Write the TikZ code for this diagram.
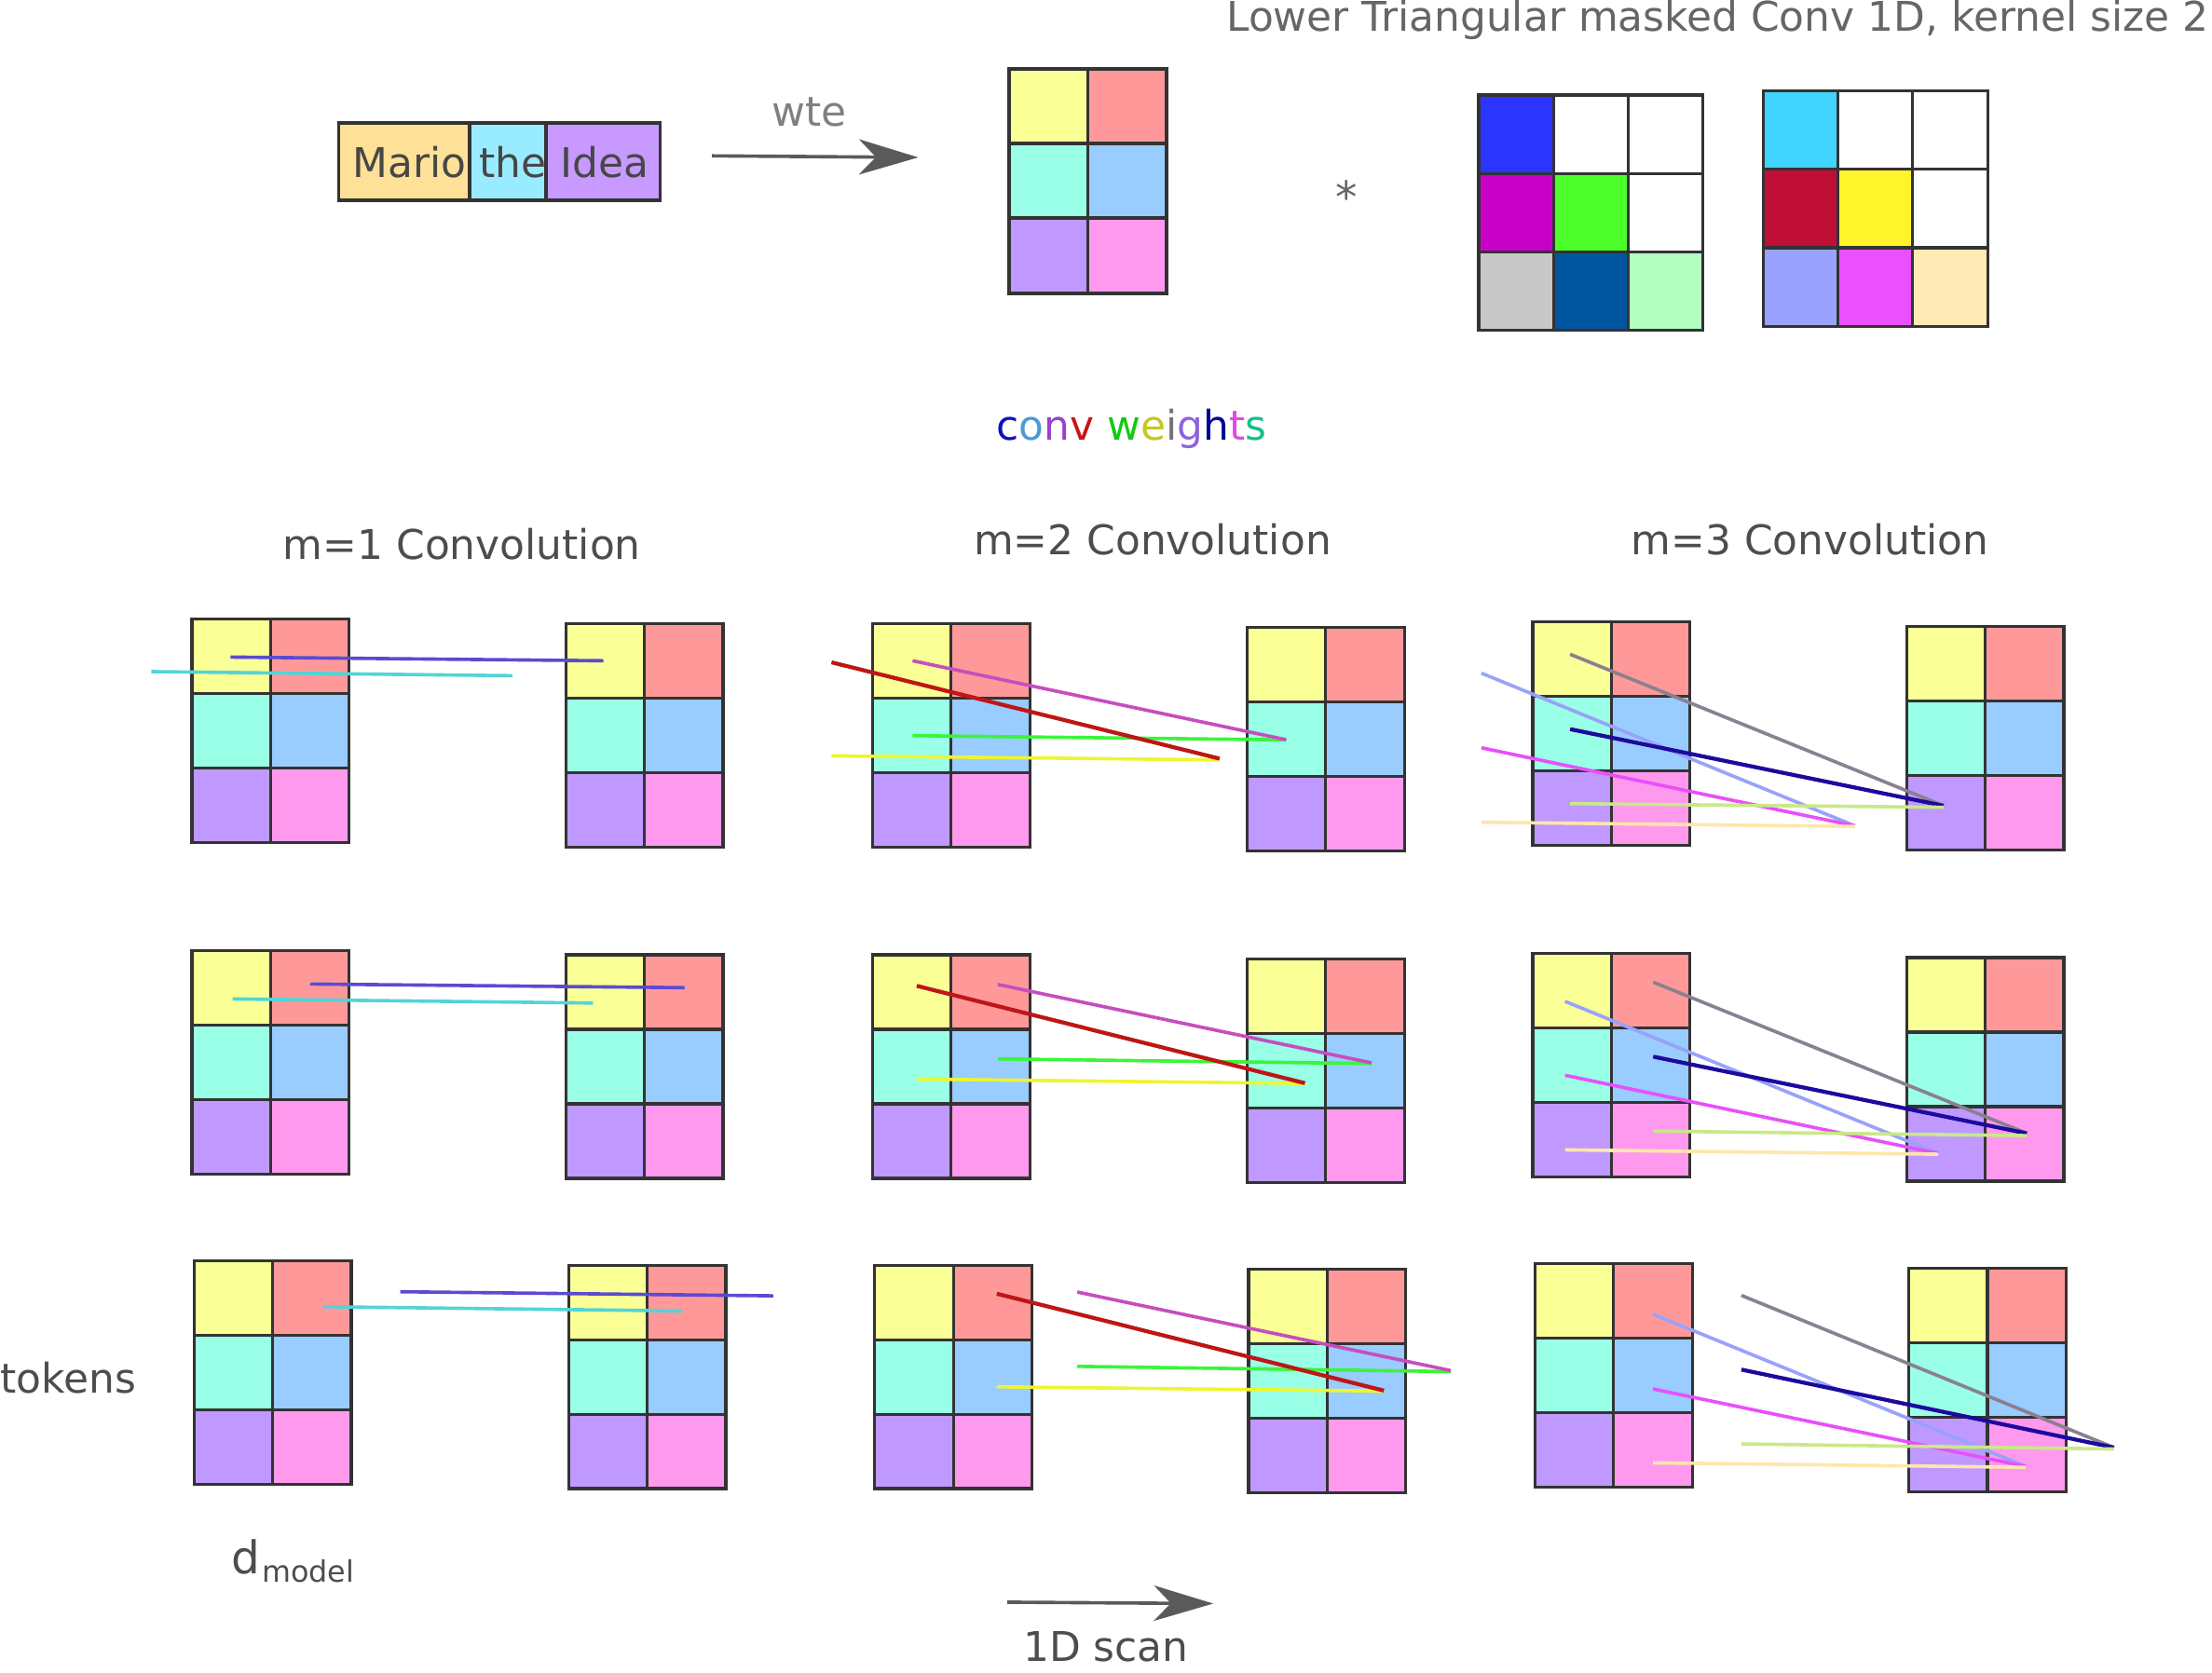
\documentclass[tikz,border=0pt]{standalone}
\usepackage{fontspec}
\setmainfont{DejaVu Sans}
\usetikzlibrary{arrows.meta}
% embedding colours
\definecolor{eyel}{HTML}{FAFF96}
\definecolor{esal}{HTML}{FF9999}
\definecolor{eaq}{HTML}{99FFE6}
\definecolor{eblu}{HTML}{99CCFF}
\definecolor{epur}{HTML}{BF99FF}
\definecolor{epin}{HTML}{FF99EE}
% token colours
\definecolor{tmario}{HTML}{FFE097}
\definecolor{tthe}{HTML}{99EBFF}
\definecolor{tidea}{HTML}{C899FF}
% weight colours
\definecolor{wa}{HTML}{2B35FF}
\definecolor{wb}{HTML}{C800C8}
\definecolor{wc}{HTML}{4CFF2A}
\definecolor{wd}{HTML}{C8C8C8}
\definecolor{we}{HTML}{0055A0}
\definecolor{wf}{HTML}{B3FFC0}
\definecolor{wg}{HTML}{40D4FF}
\definecolor{wh}{HTML}{C00F37}
\definecolor{wi}{HTML}{FFF52A}
\definecolor{wj}{HTML}{99A3FF}
\definecolor{wk}{HTML}{EA50FF}
\definecolor{wl}{HTML}{FFEAB5}
% line colours
\definecolor{lpur}{HTML}{5A4BD1}
\definecolor{lcya}{HTML}{52D4D8}
\definecolor{lred}{HTML}{BE1616}
\definecolor{lorc}{HTML}{C54EBF}
\definecolor{lgre}{HTML}{3AF53A}
\definecolor{lyel}{HTML}{EEF530}
\definecolor{lgra}{HTML}{8A8090}
\definecolor{lper}{HTML}{98A2FA}
\definecolor{lnav}{HTML}{1C0A9E}
\definecolor{lmag}{HTML}{E850FA}
\definecolor{llgr}{HTML}{CAE887}
\definecolor{lpea}{HTML}{FFE6AA}
% text colours
\definecolor{txt}{HTML}{4D4D4D}
\definecolor{txtb}{HTML}{666666}
\definecolor{txtc}{HTML}{808080}
\definecolor{arr}{HTML}{5A5A5A}
\definecolor{grid}{HTML}{333333}
% conv weights letters
\definecolor{ca}{HTML}{1010C0}
\definecolor{cb}{HTML}{4A9BD6}
\definecolor{cc}{HTML}{9B40CF}
\definecolor{cd}{HTML}{C81414}
\definecolor{ce}{HTML}{14C814}
\definecolor{cf}{HTML}{C3C81E}
\definecolor{cg}{HTML}{737373}
\definecolor{ch}{HTML}{8C64DC}
\definecolor{ci}{HTML}{000096}
\definecolor{cj}{HTML}{E04BE0}
\definecolor{ck}{HTML}{14BF8C}

\newcommand\embmat[3]{% name, x, y (top-left)
  \coordinate (#1) at (#2,#3);
  \begin{scope}[shift={(#2,#3)}]
    \foreach \r/\cA/\cB in {0/eyel/esal,1/eaq/eblu,2/epur/epin}{
      \fill[\cA] (0,\r*52.83) rectangle (55.75,\r*52.83+52.83);
      \fill[\cB] (55.75,\r*52.83) rectangle (111.5,\r*52.83+52.83);
    }
    \draw[gridline] (0,0) rectangle (111.5,158.5);
    \draw[gridline] (55.75,0) -- (55.75,158.5)
      (0,52.83) -- (111.5,52.83) (0,105.67) -- (111.5,105.67);
  \end{scope}}

\newcommand\wmat[9]{% name, x, y, c11, c21, c22, c31, c32, c33
  \coordinate (#1) at (#2,#3);
  \begin{scope}[shift={(#2,#3)}]
    \fill[#4] (0,0) rectangle (53,55.6);
    \fill[#5] (0,55.6) rectangle (53,111.2);
    \fill[#6] (53,55.6) rectangle (106,111.2);
    \fill[#7] (0,111.2) rectangle (53,167);
    \fill[#8] (53,111.2) rectangle (106,167);
    \fill[#9] (106,111.2) rectangle (159,167);
    \draw[gridline] (0,0) rectangle (159,167);
    \draw[gridline] (53,0) -- (53,167) (106,0) -- (106,167)
      (0,55.6) -- (159,55.6) (0,111.2) -- (159,111.2);
  \end{scope}}

\begin{document}
\begin{tikzpicture}[x=1pt,y=-1pt,
  gridline/.style={draw=grid,line width=2.1pt},
  lbl/.style={font=\fontsize{29}{34}\selectfont,text=txt,inner sep=0pt},
  ln/.style={draw=#1,line width=2.4pt},
  bigarrow/.style={draw=arr,line width=2.4pt,-{Stealth[length=42pt,width=25pt,inset=12pt]}}]
\useasboundingbox (0,0) rectangle (1568,1186);
\clip (0,0) rectangle (1568,1186);

% ---------- top part ----------
\fill[tmario] (240,87) rectangle (333,142);
\fill[tthe] (333,87) rectangle (387,142);
\fill[tidea] (387,87) rectangle (468,142);
\draw[gridline,line width=2.4pt] (240,87) rectangle (468,142) (333,87) -- (333,142) (387,87) -- (387,142);
\node[lbl,anchor=base west,text=grid!90] (mario) at (249.9,125.5) {Mario};
\node[lbl,anchor=base west,text=grid!90] (the) at (339.6,125.5) {the};
\node[lbl,anchor=base west,text=grid!90] (idea) at (397.3,125.5) {Idea};

\node[lbl,anchor=base west,text=txtc] (wte) at (546.8,89.2) {wte};
\coordinate (wA) at (504.7,110.5);
\coordinate (wB) at (650.9,111.6);
\draw[bigarrow] (wA) -- (wB);

% top embedding matrix
\begin{scope}[shift={(715.3,48.9)}]
  \fill[eyel] (0,0) rectangle (56,52.8);
  \fill[esal] (56,0) rectangle (111.6,52.8);
  \fill[eaq] (0,52.8) rectangle (56,105.7);
  \fill[eblu] (56,52.8) rectangle (111.6,105.7);
  \fill[epur] (0,105.7) rectangle (56,159.1);
  \fill[epin] (56,105.7) rectangle (111.6,159.1);
  \draw[gridline] (0,0) rectangle (111.6,159.1);
  \draw[gridline] (56,0) -- (56,159.1) (0,52.8) -- (111.6,52.8) (0,105.7) -- (111.6,105.7);
\end{scope}
\coordinate (topemb) at (715.3,48.9);

\node[lbl,anchor=base west,text=txtb] (title) at (869.2,22) {Lower Triangular masked Conv 1D, kernel size 2};
\node[lbl,anchor=base,text=txtb,font=\fontsize{31}{36}\selectfont] (star) at (954.4,151) {*};

\wmat{wm1}{1048.2}{67.4}{wa}{wb}{wc}{wd}{we}{wf}
\wmat{wm2}{1249.9}{64.5}{wg}{wh}{wi}{wj}{wk}{wl}

\node[lbl,anchor=base west] (cw) at (706.3,312.2) {\textcolor{ca}{c}\textcolor{cb}{o}\textcolor{cc}{n}\textcolor{cd}{v} \textcolor{ce}{w}\textcolor{cf}{e}\textcolor{cg}{i}\textcolor{ch}{g}\textcolor{ci}{h}\textcolor{cj}{t}\textcolor{ck}{s}};

% ---------- headings ----------
\node[lbl,anchor=base] (h1) at (327.5,396.5) {m=1 Convolution};
\node[lbl,anchor=base] (h2) at (817,393.5) {m=2 Convolution};
\node[lbl,anchor=base] (h3) at (1283,393.5) {m=3 Convolution};

% ---------- matrices ----------
\embmat{aL1}{136}{439}
\embmat{aR1}{401}{442}
\embmat{aL2}{618.5}{442}
\embmat{aR2}{884}{445}
\embmat{aL3}{1086.5}{441}
\embmat{aR3}{1351.5}{444}

\embmat{bL1}{136}{674}
\embmat{bR1}{401}{677}
\embmat{bL2}{618.5}{677}
\embmat{bR2}{884}{680}
\embmat{bL3}{1086.5}{676}
\embmat{bR3}{1351.5}{679}

\embmat{cL1}{137.5}{894}
\embmat{cR1}{403}{897}
\embmat{cL2}{620}{897}
\embmat{cR2}{885}{900}
\embmat{cL3}{1088}{896}
\embmat{cR3}{1353}{899}

% ---------- lines row 1 ----------
\draw[ln=lpur] (163.4,465.9) -- (427.7,468.5);
\draw[ln=lcya] (107.3,476.2) -- (363.3,479.1);

\draw[ln=lgre] (646.9,521.6) -- (911.7,524.6);
\draw[ln=lyel] (589.4,535.9) -- (864.5,538.8);
\draw[ln=lred,line width=2.8pt] (589.4,469.6) -- (864.5,537.9);
\draw[ln=lorc] (646.9,468.5) -- (911.7,524.5);

\draw[ln=lgra] (1113,463.9) -- (1377.7,571.3);
\draw[ln=lper] (1050.1,477.3) -- (1314.9,585.6);
\draw[ln=lnav,line width=2.8pt] (1113,517) -- (1377.7,571.3);
\draw[ln=lmag] (1050.1,530.2) -- (1314.9,585.6);
\draw[ln=llgr] (1113,569.8) -- (1377.7,572.4);
\draw[ln=lpea] (1050.1,583) -- (1314.9,586);

% ---------- lines row 2 ----------
\draw[ln=lpur] (220.1,697.7) -- (485.2,700.3);
\draw[ln=lcya] (164.8,708.3) -- (420.3,711.2);

\draw[ln=lgre] (707.3,750.8) -- (972.1,754.1);
\draw[ln=lyel] (649.8,765.1) -- (925,768.2);
\draw[ln=lred,line width=2.8pt] (649.8,699) -- (925,768);
\draw[ln=lorc] (707.3,698) -- (972.1,753.6);

\draw[ln=lgra] (1171.9,696.4) -- (1436.7,803.6);
\draw[ln=lper] (1109.4,710) -- (1373.9,817.9);
\draw[ln=lnav,line width=2.8pt] (1171.9,749.2) -- (1436.7,803.6);
\draw[ln=lmag] (1109.4,762.4) -- (1373.9,817.9);
\draw[ln=llgr] (1171.9,802) -- (1436.7,805.2);
\draw[ln=lpea] (1109.4,815.3) -- (1373.9,818.4);

% ---------- lines row 3 ----------
\draw[ln=lpur] (283.7,915.9) -- (548.1,918.8);
\draw[ln=lcya] (229,926.5) -- (483.7,929.5);

\draw[ln=lgre] (763.6,968.8) -- (1028.4,972.5);
\draw[ln=lyel] (706.6,983.3) -- (981,986.3);
\draw[ln=lred,line width=2.8pt] (706.6,917.3) -- (981,986);
\draw[ln=lorc] (763.6,916.1) -- (1028.4,971.8);

\draw[ln=lgra] (1234.4,918.5) -- (1498.5,1026.4);
\draw[ln=lper] (1171.7,931.8) -- (1436.1,1039.8);
\draw[ln=lnav,line width=2.8pt] (1234.4,971.1) -- (1498.5,1026.4);
\draw[ln=lmag] (1171.7,984.8) -- (1436.1,1039.8);
\draw[ln=llgr] (1234.4,1023.8) -- (1498.5,1027.4);
\draw[ln=lpea] (1171.7,1037.2) -- (1436.1,1040.4);

% ---------- axis labels ----------
\node[lbl,anchor=base west] (tokens) at (0,988) {tokens};
\node[lbl,anchor=base west,font=\fontsize{32}{36}\selectfont] (dd) at (164,1115.8) {d};
\node[lbl,anchor=base west,font=\fontsize{21}{24}\selectfont] (dm) at (185.5,1121.6) {model};

\coordinate (sA) at (714,1136);
\coordinate (sB) at (860,1137);
\draw[bigarrow] (sA) -- (sB);
\node[lbl,anchor=base] (scan) at (784,1178) {1D scan};
\end{tikzpicture}
\end{document}
